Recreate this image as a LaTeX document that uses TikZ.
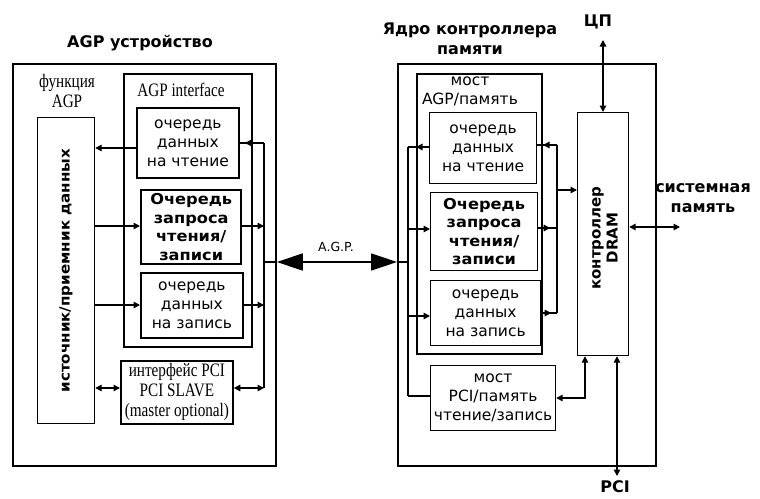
\documentclass[tikz,border=0pt]{standalone}
\usepackage{fontspec}
\setmainfont{DejaVu Sans}
\newfontfamily\qfont{DejaVu Sans}
\newfontfamily\tfont{DejaVu Sans}
\newfontfamily\wbfont[FakeStretch=1.08]{DejaVu Sans}
\newfontfamily\cserif[FakeStretch=0.8]{Liberation Serif}
\usetikzlibrary{arrows.meta}
\tikzset{
  ln/.style={line width=1.4pt},
  arr/.style={ln,-{Triangle[length=6.5pt,width=6.5pt]}},
  darr/.style={ln,{Triangle[length=6.5pt,width=6.5pt]}-{Triangle[length=6.5pt,width=6.5pt]}},
  bigarr/.style={line width=1.6pt,{Triangle[length=26pt,width=17pt]}-{Triangle[length=26pt,width=17pt]}},
  bx/.style={draw,line width=1.8pt,inner sep=0pt,anchor=north west},
  rbx/.style={draw,line width=1.2pt,inner sep=0pt,anchor=north west},
  qtext/.style={font=\qfont\fontsize{15.5}{19}\selectfont,align=center},
  btext/.style={font=\wbfont\bfseries\fontsize{15}{18.5}\selectfont,align=center},
  stext/.style={font=\cserif\fontsize{19}{20}\selectfont,align=center},
  ttext/.style={font=\tfont\bfseries\fontsize{16}{20}\selectfont,align=center},
}
\begin{document}
\begin{tikzpicture}[x=1pt,y=-1pt]
\useasboundingbox (0,0) rectangle (760,498);
% ---------- left: AGP device ----------
\node[ttext] (titleL) at (140,43) {AGP устройство};
\node[bx,minimum width=263pt,minimum height=402pt] (outL) at (12,63) {};
\node[stext] (funclab) at (67,91) {функция\\AGP};
\node[bx,minimum width=128pt,minimum height=273pt] (agpif) at (123,73) {};
\node[stext] (agpiflab) at (181,90) {AGP interface};
\node[bx,qtext,minimum width=102pt,minimum height=70pt] (rqL) at (136,107) {очередь\\данных\\на чтение};
\node[bx,btext,line width=2.4pt,minimum width=100pt,minimum height=74pt] (reqL) at (140,189) {Очередь\\запроса\\чтения/\\записи};
\node[bx,qtext,minimum width=102pt,minimum height=65pt] (wqL) at (140,272) {очередь\\данных\\на запись};
\node[bx,stext,minimum width=112pt,minimum height=63pt] (pciL) at (120,360) {интерфейс PCI\\PCI SLAVE\\(master optional)};
\node[rbx,minimum width=57pt,minimum height=306pt] (src) at (37,117) {};
\node[rotate=90,font=\wbfont\bfseries\fontsize{14}{16}\selectfont] (srclab) at (src.center) {источник/приемник данных};
% left bus
\coordinate (bLt) at (264,143);
\coordinate (bLb) at (264,388);
\draw[ln] (bLt) -- (bLb);
\coordinate (yrdL) at (0,148);
\coordinate (yrq) at (0,226);
\coordinate (ywq) at (0,305);
\coordinate (ypci) at (0,388);
\coordinate (yagp) at (0,262);
\coordinate (rdtip) at (245,143);
\draw[ln] (bLt) -- (rqL.east |- bLt);
\draw[arr] (bLt) -- (rdtip);
\draw[arr] (rqL.west |- yrdL) -- (src.east |- yrdL);
\draw[arr] (src.east |- yrq) -- (reqL.west |- yrq);
\draw[arr] (reqL.east |- yrq) -- (bLt |- yrq);
\draw[arr] (src.east |- ywq) -- (wqL.west |- ywq);
\draw[arr] (wqL.east |- ywq) -- (bLt |- ywq);
\draw[darr] (src.east |- ypci) -- (pciL.west |- ypci);
\draw[darr] (pciL.east |- ypci) -- (bLb);
% ---------- right: memory controller core ----------
\node[ttext] (titleR) at (470,39) {Ядро контроллера\\памяти};
\node[rbx,line width=1.6pt,minimum width=258pt,minimum height=402pt] (outR) at (397,63) {};
\node[bx,line width=2pt,minimum width=125pt,minimum height=280pt] (bridge) at (416,73) {};
\node[qtext] (bridgelab) at (470,91) {мост\\AGP/память};
\node[rbx,qtext,minimum width=107pt,minimum height=71pt] (rqR) at (429,112) {очередь\\данных\\на чтение};
\node[rbx,btext,minimum width=107pt,minimum height=78pt] (reqR) at (430,192) {Очередь\\запроса\\чтения/\\записи};
\node[rbx,qtext,minimum width=110pt,minimum height=65pt] (wqR) at (430,280) {очередь\\данных\\на запись};
\node[rbx,qtext,minimum width=125pt,minimum height=65pt] (pciR) at (430,365) {мост\\PCI/память\\чтение/запись};
\node[rbx,minimum width=51pt,minimum height=243pt] (dram) at (577,112) {};
\node[rotate=90,align=center,font=\tfont\bfseries\fontsize{15}{17}\selectfont] (dramlab) at (605,238) {контроллер\\DRAM};
% AGP bus between the two
\draw[ln] (bLt |- yagp) -- (outL.east |- yagp);
\draw[bigarr] (outL.east |- yagp) -- (outR.west |- yagp);
\node[font=\tfont\fontsize{12.5}{14}\selectfont] (agplab) at (336,247) {A.G.P.};
% right-left bus
\coordinate (bRt) at (408,147);
\coordinate (bRb) at (408,396);
\draw[ln] (outR.west |- yagp) -- (bRt |- yagp);
\draw[ln] (bRt) -- (bRb);
\coordinate (yrqR) at (0,229);
\coordinate (ywqR) at (0,316);
\draw[ln] (rqR.west |- bRt) -- (bRt);
\draw[arr] (rqR.west |- bRt) -- (bridge.west |- bRt);
\draw[arr] (bRt |- yrqR) -- (reqR.west |- yrqR);
\draw[arr] (bRt |- ywqR) -- (wqR.west |- ywqR);
\draw[ln] (bRb) -- (pciR.west |- bRb);
% right-right bus
\coordinate (cRt) at (557,145);
\coordinate (cRb) at (557,313);
\coordinate (yrqR2) at (0,228);
\coordinate (ydram) at (0,190);
\draw[ln] (cRt) -- (cRb);
\draw[ln] (rqR.east |- cRt) -- (cRt);
\draw[arr] (cRt) -- (bridge.east |- cRt);
\draw[ln] (reqR.east |- yrqR2) -- (cRt |- yrqR2);
\draw[arr] (reqR.east |- yrqR2) -- ([xshift=12pt]reqR.east |- yrqR2);
\draw[ln] (wqR.east |- cRb) -- (cRb);
\draw[arr] (wqR.east |- cRb) -- ([xshift=10pt]wqR.east |- cRb);
\draw[arr] (cRt |- ydram) -- (dram.west |- ydram);
% external connections
\node[ttext] (cpu) at (598,22) {ЦП};
\coordinate (cpuend) at (603,40);
\draw[darr] (cpuend) -- (dram.north -| cpuend);
\node[ttext] (sysmem) at (703,198) {системная\\память};
\coordinate (sysend) at (680,227);
\draw[darr] (dram.east |- sysend) -- (sysend);
\node[ttext] (pcilab) at (615,487) {PCI};
\coordinate (pciend) at (617,476);
\draw[darr] (dram.south -| pciend) -- (pciend);
\coordinate (pcib) at (585,398);
\draw[darr] (pciR.east |- pcib) -- (pcib) -- (dram.south -| pcib);
\end{tikzpicture}
\end{document}
